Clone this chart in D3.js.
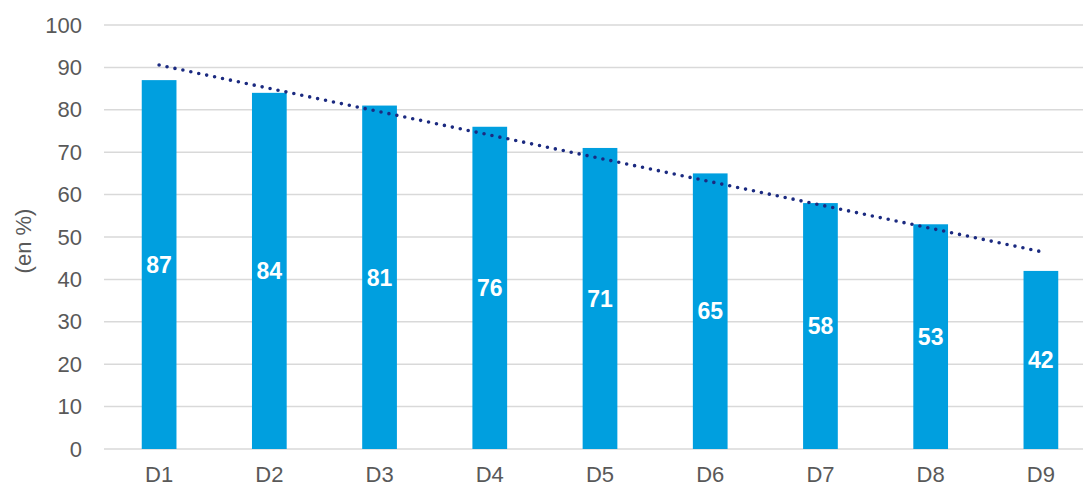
<!DOCTYPE html>
<html><head><meta charset="utf-8">
<script src="https://cdn.jsdelivr.net/npm/d3@7"></script>
<style>body{margin:0;background:#fff;} svg{display:block;}</style>
</head><body>
<svg id="chart" width="1083" height="486"></svg>
<script>
const categories = ["D1","D2","D3","D4","D5","D6","D7","D8","D9"];
const values = [87,84,81,76,71,65,58,53,42];
const yTicks = [0,10,20,30,40,50,60,70,80,90,100];
const yTitle = "(en %)";

(function(){
const svg = d3.select("#chart");
const pLeft = 104, pRight = 1096, pTop = 25, pBottom = 449;
const font = "'Liberation Sans', Arial, sans-serif";

const x = d3.scaleBand().domain(categories).range([pLeft, pRight]).paddingInner(0.685).paddingOuter(0.3425);
const y = d3.scaleLinear().domain([0,100]).range([pBottom, pTop]);

// gridlines
svg.append("g").selectAll("line").data(yTicks).join("line")
  .attr("x1", pLeft).attr("x2", 1083)
  .attr("y1", d => y(d)).attr("y2", d => y(d))
  .attr("stroke", "#d9d9d9").attr("stroke-width", 1.5);

// y axis labels
const yAxis = d3.axisLeft(y).tickValues(yTicks).tickSize(0).tickPadding(0);
const yg = svg.append("g").attr("transform", `translate(82,0)`).call(yAxis);
yg.select(".domain").remove();
yg.selectAll("text").attr("font-family", font).attr("font-size", 22).attr("fill", "#595959");

// x axis labels
const xAxis = d3.axisBottom(x).tickSize(0).tickPadding(0);
const xg = svg.append("g").attr("transform", `translate(0,${pBottom+17})`).call(xAxis);
xg.select(".domain").remove();
xg.selectAll("text").attr("font-family", font).attr("font-size", 22).attr("fill", "#595959");

// y title
svg.append("text").attr("transform", `translate(31,${(pTop+pBottom)/2+4}) rotate(-90)`)
  .attr("text-anchor", "middle").attr("font-family", font).attr("font-size", 22)
  .attr("fill", "#595959").text(yTitle);

// bars
svg.append("g").selectAll("rect").data(values).join("rect")
  .attr("x", (d,i) => x(categories[i])).attr("width", x.bandwidth())
  .attr("y", d => y(d)).attr("height", d => y(0) - y(d))
  .attr("fill", "#009FDF");

// value labels
svg.append("g").selectAll("text").data(values).join("text")
  .attr("x", (d,i) => x(categories[i]) + x.bandwidth()/2)
  .attr("y", d => (y(d) + y(0))/2)
  .attr("dy", "0.36em")
  .attr("text-anchor", "middle").attr("font-family", font).attr("font-weight", "bold")
  .attr("font-size", 23).attr("fill", "#fff").text(d => d);

// linear trend line
const n = values.length;
const xs = values.map((d,i) => i+1);
const mx = d3.mean(xs), my = d3.mean(values);
const slope = d3.sum(xs.map((xi,i) => (xi-mx)*(values[i]-my))) / d3.sum(xs.map(xi => (xi-mx)**2));
const icpt = my - slope*mx;
const cx = c => x(c) + x.bandwidth()/2;
svg.append("line")
  .attr("x1", cx(categories[0])).attr("y1", y(icpt + slope*1))
  .attr("x2", cx(categories[n-1])).attr("y2", y(icpt + slope*n))
  .attr("stroke", "#1B2A80").attr("stroke-width", 3.6)
  .attr("stroke-linecap", "round").attr("stroke-dasharray", "0 8.1");
})();
</script>
</body></html>
